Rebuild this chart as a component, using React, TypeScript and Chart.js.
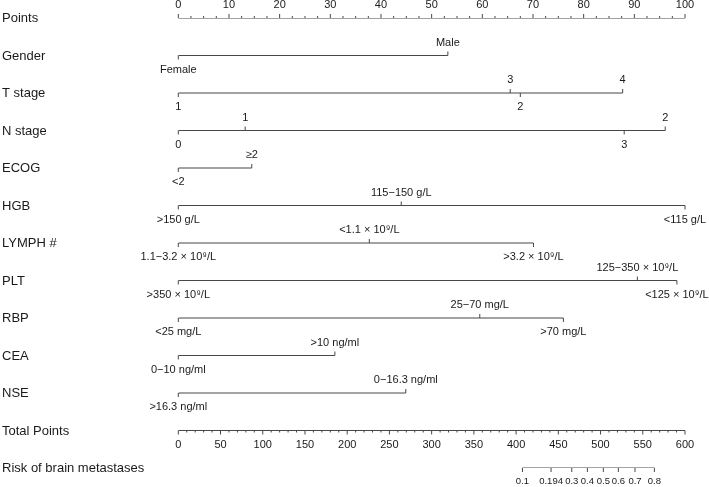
import React, { useEffect, useRef } from "react";
import { Chart, registerables } from "chart.js";

Chart.register(...registerables);

// Row names (top to bottom)
const rowNames = [
  "Points",
  "Gender",
  "T stage",
  "N stage",
  "ECOG",
  "HGB",
  "LYMPH #",
  "PLT",
  "RBP",
  "CEA",
  "NSE",
  "Total Points",
  "Risk of brain metastases",
];

// Points axis
const pointsMajorTicks = [0, 10, 20, 30, 40, 50, 60, 70, 80, 90, 100];
const pointsMinorStep = 2.5;

// Variable levels and their points
const genderLevels = ["Female", "Male"];
const genderPoints = [0, 53.2];
const tStageLevels = ["1", "2", "3", "4"];
const tStagePoints = [0, 67.5, 65.5, 87.7];
const nStageLevels = ["0", "1", "2", "3"];
const nStagePoints = [0, 13.2, 96.1, 88.0];
const ecogLevels = ["<2", "≥2"];
const ecogPoints = [0, 14.5];
const hgbLevels = [">150 g/L", "115−150 g/L", "<115 g/L"];
const hgbPoints = [0, 44.0, 100];
const lymphLevels = ["1.1−3.2 × 10⁹/L", "<1.1 × 10⁹/L", ">3.2 × 10⁹/L"];
const lymphPoints = [0, 37.7, 70.1];
const pltLevels = [">350 × 10⁹/L", "125−350 × 10⁹/L", "<125 × 10⁹/L"];
const pltPoints = [0, 90.6, 98.4];
const rbpLevels = ["<25 mg/L", "25−70 mg/L", ">70 mg/L"];
const rbpPoints = [0, 59.5, 76.0];
const ceaLevels = ["0−10 ng/ml", ">10 ng/ml"];
const ceaPoints = [0, 30.9];
const nseLevels = [">16.3 ng/ml", "0−16.3 ng/ml"];
const nsePoints = [0, 44.9];

// Total points axis
const totalMajorTicks = [0, 50, 100, 150, 200, 250, 300, 350, 400, 450, 500, 550, 600];
const totalMinorStep = 10;

// Risk axis (labels and their total-points positions)
const riskLabels = ["0.1", "0.194", "0.3", "0.4", "0.5", "0.6", "0.7", "0.8"];
const riskTotalPoints = [407.5, 441.4, 465.9, 484.4, 503.3, 521.1, 540.8, 563.7];

const variables = [
  { row: 1, levels: genderLevels, pts: genderPoints },
  { row: 2, levels: tStageLevels, pts: tStagePoints },
  { row: 3, levels: nStageLevels, pts: nStagePoints },
  { row: 4, levels: ecogLevels, pts: ecogPoints },
  { row: 5, levels: hgbLevels, pts: hgbPoints },
  { row: 6, levels: lymphLevels, pts: lymphPoints },
  { row: 7, levels: pltLevels, pts: pltPoints },
  { row: 8, levels: rbpLevels, pts: rbpPoints },
  { row: 9, levels: ceaLevels, pts: ceaPoints },
  { row: 10, levels: nseLevels, pts: nsePoints },
];

const LINE = "#474747";
const TEXT = "#1a1a1a";
const FONT = "'Liberation Sans', Arial, Helvetica, sans-serif";

export default function App() {
  const canvasRef = useRef<HTMLCanvasElement | null>(null);

  useEffect(() => {
    const canvas = canvasRef.current;
    if (!canvas) return;

    const lineDs = (xAxisID: string, x0: number, x1: number, y: number) => ({
      type: "scatter" as const,
      xAxisID,
      yAxisID: "y",
      data: [
        { x: x0, y },
        { x: x1, y },
      ],
      showLine: true,
      borderColor: LINE,
      borderWidth: 1,
      pointRadius: 0,
      pointHoverRadius: 0,
      fill: false,
    });

    const datasets: any[] = [];
    datasets.push(lineDs("x", 0, 100, 0));
    variables.forEach((v) => {
      datasets.push(lineDs("x", Math.min(...v.pts), Math.max(...v.pts), v.row));
    });
    datasets.push(lineDs("x2", 0, 600, 11));
    datasets.push(
      lineDs("x2", Math.min(...riskTotalPoints), Math.max(...riskTotalPoints), 12)
    );

    const nomoPlugin = {
      id: "nomo",
      afterDatasetsDraw(chart: any) {
        const ctx = chart.ctx as CanvasRenderingContext2D;
        const xs = chart.scales.x;
        const x2 = chart.scales.x2;
        const ys = chart.scales.y;
        ctx.save();
        ctx.strokeStyle = LINE;
        ctx.lineWidth = 1;
        ctx.fillStyle = TEXT;

        const tick = (px: number, py: number, len: number) => {
          ctx.beginPath();
          ctx.moveTo(px, py);
          ctx.lineTo(px, py + len);
          ctx.stroke();
        };

        // Row names
        ctx.font = `13px ${FONT}`;
        ctx.textAlign = "left";
        ctx.textBaseline = "middle";
        rowNames.forEach((n, i) => {
          ctx.fillText(n, 2, ys.getPixelForValue(i) + 0.5);
        });

        ctx.font = `11px ${FONT}`;
        ctx.textAlign = "center";

        // Points axis
        const yP = ys.getPixelForValue(0);
        for (let v = 0; v <= 100 + 1e-9; v += pointsMinorStep) {
          const major = pointsMajorTicks.includes(v);
          tick(xs.getPixelForValue(v), yP, major ? -4 : -2);
        }
        pointsMajorTicks.forEach((v) => {
          ctx.fillText(String(v), xs.getPixelForValue(v), yP - 13);
        });

        // Variables
        variables.forEach((v) => {
          const yR = ys.getPixelForValue(v.row);
          const order = v.pts.map((p, i) => i).sort((a, b) => v.pts[a] - v.pts[b]);
          order.forEach((idx, k) => {
            const above = k % 2 === 1;
            const px = xs.getPixelForValue(v.pts[idx]);
            tick(px, yR, above ? -4 : 4);
            ctx.fillText(v.levels[idx], px, above ? yR - 13 : yR + 14);
          });
        });

        // Total points axis
        const yT = ys.getPixelForValue(11);
        for (let v = 0; v <= 600; v += totalMinorStep) {
          const major = totalMajorTicks.includes(v);
          tick(x2.getPixelForValue(v), yT, major ? 4 : 2);
        }
        totalMajorTicks.forEach((v) => {
          ctx.fillText(String(v), x2.getPixelForValue(v), yT + 14);
        });

        // Risk axis
        const yRk = ys.getPixelForValue(12);
        ctx.font = `9.5px ${FONT}`;
        riskTotalPoints.forEach((tp, i) => {
          const px = x2.getPixelForValue(tp);
          tick(px, yRk, 4);
          ctx.fillText(riskLabels[i], px, yRk + 13);
        });

        ctx.restore();
      },
    };

    const chart = new Chart(canvas, {
      type: "scatter",
      data: { datasets },
      options: {
        animation: false,
        responsive: false,
        devicePixelRatio: 1,
        events: [],
        layout: { padding: { left: 178.3, right: 24, top: 18, bottom: 19 } },
        plugins: { legend: { display: false }, tooltip: { enabled: false } },
        scales: {
          x: { type: "linear", min: 0, max: 100, display: false },
          x2: { type: "linear", min: 0, max: 600, display: false, position: "bottom" },
          y: { type: "linear", min: 0, max: 12, reverse: true, display: false },
        },
      },
      plugins: [nomoPlugin],
    });

    return () => chart.destroy();
  }, []);

  return (
    <div style={{ position: "fixed", left: 0, top: 0, width: 709, height: 487, background: "#fff" }}>
      <canvas ref={canvasRef} width={709} height={487} style={{ display: "block" }} />
    </div>
  );
}
